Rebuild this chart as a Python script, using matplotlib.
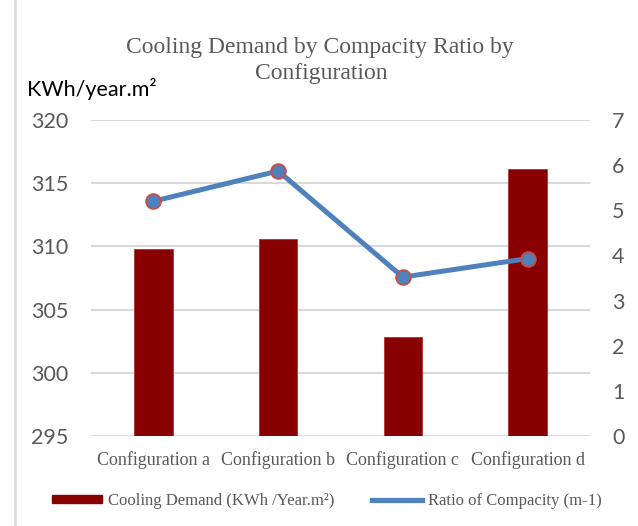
import matplotlib
matplotlib.use("Agg")
import matplotlib.pyplot as plt
from matplotlib.lines import Line2D
from matplotlib.patches import Patch

categories = ["Configuration a", "Configuration b", "Configuration c", "Configuration d"]
cooling_demand = [309.8, 310.6, 302.8, 316.1]
compacity_ratio = [5.2, 5.87, 3.52, 3.93]
left_ticks = [295, 300, 305, 310, 315, 320]
right_ticks = [0, 1, 2, 3, 4, 5, 6, 7]

gray = "#595959"
bar_color = "#880000"
line_color = "#4F81BD"
marker_edge = "#C0504D"
sans = ["Lato", "DejaVu Sans"]
serif = ["Liberation Serif", "DejaVu Serif"]

W, H = 638, 526
fig = plt.figure(figsize=(W/100, H/100), dpi=100)
ax = fig.add_axes([91/W, 1-436/H, (590-91)/W, (436-120)/H])
x = list(range(len(categories)))
ax.bar(x, cooling_demand, width=0.31, bottom=0, color=bar_color, edgecolor="#B03030", linewidth=0.6, zorder=2)
ax.set_ylim(295, 320)
ax.set_xlim(-0.5, 3.5)
ax.set_yticks(left_ticks)
ax.set_xticks(x)
ax.set_xticklabels(categories, family=serif, fontsize=13, color=gray)
for lab in ax.get_yticklabels():
    lab.set_family(sans); lab.set_fontsize(15.5); lab.set_color(gray)
ax.tick_params(axis="both", length=0)
ax.tick_params(axis="y", pad=16)
ax.tick_params(axis="x", pad=11)
ax.grid(axis="y", color="#D9D9D9", linewidth=1.5, zorder=0)
ax.set_axisbelow(True)
for s in ax.spines.values():
    s.set_visible(False)

ax2 = ax.twinx()
ax2.plot(x, compacity_ratio, color=line_color, linewidth=3.6, marker="o", markersize=10.5,
         markerfacecolor=line_color, markeredgecolor=marker_edge, markeredgewidth=1.4, zorder=3)
ax2.set_ylim(0, 7)
ax2.set_yticks(right_ticks)
for lab in ax2.get_yticklabels():
    lab.set_family(sans); lab.set_fontsize(15.5); lab.set_color(gray)
ax2.tick_params(axis="y", length=0, pad=16)
for s in ax2.spines.values():
    s.set_visible(False)

fig.text(320/W, 1-48/H, "Cooling Demand by Compacity Ratio by", ha="center", va="center",
         family=serif, fontsize=17, color=gray)
fig.text(321/W, 1-73/H, "Configuration", ha="center", va="center",
         family=serif, fontsize=17, color=gray)
fig.text(27/W, 1-89/H, "KWh/year.m²", ha="left", va="center", family=sans, fontsize=15.5, color="black")

handles = [Patch(facecolor=bar_color, edgecolor=bar_color),
           Line2D([0], [0], color=line_color, linewidth=3.8)]
labels = ["Cooling Demand (KWh /Year.m²)", "Ratio of Compacity (m-1)"]
fig.legend(handles, labels, loc="center", bbox_to_anchor=(327/W, 1-501/H), ncol=2, frameon=False,
           prop={"family": serif, "size": 12}, labelcolor=gray, handlelength=3.0, handleheight=0.4,
           handletextpad=0.35, columnspacing=2.3)

fig.add_artist(Line2D([15/W, 15/W], [0, 1], transform=fig.transFigure, color="#D9D9D9", linewidth=1.8))

fig.savefig("out.png", dpi=100)
